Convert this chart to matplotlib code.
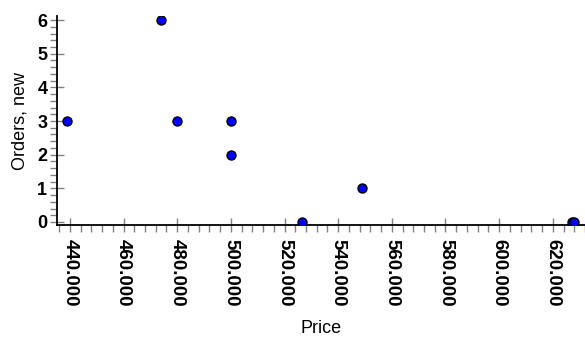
import matplotlib
matplotlib.use("Agg")
from matplotlib import pyplot as plt
from matplotlib.ticker import MultipleLocator, FormatStrFormatter

price = [438.9, 474, 480, 500, 500, 526.5, 549, 627, 628]
orders_new = [3, 6, 3, 3, 2, 0, 1, 0, 0]

plt.rcParams['font.family'] = ['Liberation Sans', 'DejaVu Sans']

fig = plt.figure(figsize=(5.85, 3.47), dpi=100)
ax = fig.add_axes([57 / 585, (347 - 225) / 347, 1 - 57 / 585, (225 - 16) / 347])

ax.scatter(price, orders_new, s=42, color="#0000ff", edgecolors="black", linewidths=1, zorder=3)

ax.set_xlim(435.2, 632)
ax.set_ylim(-0.09, 6.12)

for side in ("top", "right"):
    ax.spines[side].set_visible(False)
for side in ("left", "bottom"):
    ax.spines[side].set_linewidth(1.3)

ax.xaxis.set_major_locator(MultipleLocator(20))
ax.xaxis.set_minor_locator(MultipleLocator(4))
ax.yaxis.set_major_locator(MultipleLocator(1))
ax.yaxis.set_minor_locator(MultipleLocator(0.2))
ax.xaxis.set_major_formatter(FormatStrFormatter("%.3f"))

ax.tick_params(axis="both", which="major", direction="inout", length=10, width=1, color="#808080")
ax.tick_params(axis="both", which="minor", direction="out", length=5, width=1, color="#808080")
ax.tick_params(axis="x", which="major", labelrotation=270, labelsize=13.5, pad=5)
ax.tick_params(axis="y", which="major", labelsize=13, pad=2)
for lbl in ax.get_xticklabels() + ax.get_yticklabels():
    lbl.set_fontweight("bold")

ax.set_xlabel("Price", fontsize=13, labelpad=10)
ax.set_ylabel("Orders, new", fontsize=13, labelpad=6)

fig.savefig("out.png", dpi=100)
